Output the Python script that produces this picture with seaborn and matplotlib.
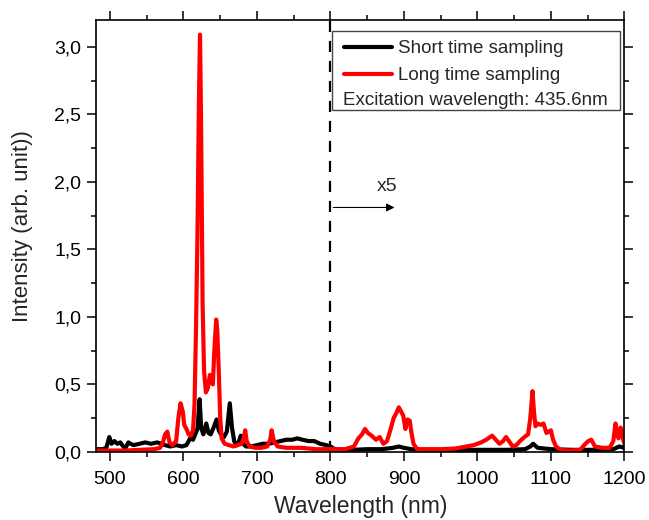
import matplotlib
matplotlib.use("Agg")
import matplotlib.pyplot as plt
from matplotlib.ticker import MultipleLocator, FuncFormatter
from matplotlib.patches import Rectangle
import seaborn as sns
import pandas as pd

# short time sampling (black)
wl_short = [481, 490, 495, 499, 502, 506, 510, 514, 518, 521,
            525, 528, 532, 540, 548, 556, 564, 570, 575, 582,
            590, 598, 604, 609, 613, 616, 619, 622, 624, 627,
            631, 634, 637, 641, 645, 648, 651, 655, 659, 663,
            666, 669, 672, 675, 678, 681, 685, 692, 700, 708,
            716, 724, 732, 740, 748, 755, 762, 770, 778, 786,
            794, 800, 806, 815, 830, 850, 870, 885, 893, 900,
            910, 930, 960, 1000, 1040, 1065, 1072, 1076, 1082, 1100,
            1130, 1160, 1185, 1193, 1200]
int_short = [0.02, 0.02, 0.03, 0.11, 0.06, 0.08, 0.06, 0.07, 0.04, 0.03,
             0.07, 0.06, 0.05, 0.06, 0.07, 0.06, 0.07, 0.06, 0.05, 0.04,
             0.05, 0.04, 0.05, 0.10, 0.09, 0.13, 0.17, 0.39, 0.18, 0.13,
             0.21, 0.14, 0.13, 0.18, 0.24, 0.16, 0.13, 0.11, 0.15, 0.36,
             0.18, 0.08, 0.05, 0.07, 0.12, 0.06, 0.04, 0.04, 0.05, 0.06,
             0.06, 0.07, 0.08, 0.09, 0.09, 0.10, 0.09, 0.08, 0.08, 0.06,
             0.05, 0.04, 0.02, 0.015, 0.015, 0.02, 0.02, 0.03, 0.04, 0.03,
             0.02, 0.015, 0.015, 0.015, 0.015, 0.02, 0.04, 0.06, 0.03, 0.02,
             0.015, 0.015, 0.02, 0.04, 0.03]

# long time sampling (red)
wl_long = [481, 500, 520, 540, 560, 568, 572, 575, 578, 581,
           585, 590, 593, 596, 599, 601, 604, 607, 610, 613,
           615, 617, 619, 621, 622.5, 624, 626, 628, 630.5, 633,
           636, 638, 640, 642, 644.5, 646, 648, 650, 652, 656,
           662, 668, 674, 679, 682, 684, 686, 690, 698, 706,
           714, 718, 720, 723, 728, 740, 760, 780, 800, 820,
           832, 838, 843, 847, 851, 856, 862, 867, 872, 877,
           882, 886, 890, 893, 896, 899, 902, 905, 908, 910,
           913, 918, 930, 950, 970, 985, 995, 1005, 1012, 1020,
           1025, 1030, 1035, 1039, 1043, 1048, 1053, 1058, 1064, 1069,
           1072, 1075, 1077, 1079, 1082, 1086, 1090, 1094, 1097, 1100,
           1103, 1107, 1113, 1125, 1140, 1147, 1151, 1155, 1160, 1170,
           1180, 1185, 1188, 1190, 1192, 1195, 1198, 1200]
int_long = [0.01, 0.01, 0.01, 0.015, 0.02, 0.03, 0.07, 0.13, 0.15, 0.07,
            0.05, 0.08, 0.25, 0.36, 0.30, 0.20, 0.17, 0.13, 0.12, 0.16,
            0.35, 0.90, 1.60, 2.60, 3.09, 2.40, 1.10, 0.60, 0.44, 0.47,
            0.57, 0.52, 0.50, 0.75, 0.98, 0.90, 0.60, 0.25, 0.10, 0.06,
            0.05, 0.04, 0.05, 0.06, 0.10, 0.16, 0.08, 0.04, 0.03, 0.03,
            0.04, 0.09, 0.16, 0.08, 0.04, 0.03, 0.03, 0.02, 0.02, 0.02,
            0.04, 0.10, 0.13, 0.17, 0.14, 0.12, 0.09, 0.11, 0.06, 0.08,
            0.17, 0.25, 0.29, 0.33, 0.30, 0.27, 0.17, 0.24, 0.23, 0.15,
            0.06, 0.02, 0.02, 0.02, 0.025, 0.04, 0.05, 0.07, 0.09, 0.12,
            0.09, 0.06, 0.08, 0.11, 0.08, 0.04, 0.05, 0.08, 0.11, 0.13,
            0.25, 0.45, 0.30, 0.19, 0.21, 0.20, 0.21, 0.14, 0.15, 0.16,
            0.09, 0.04, 0.015, 0.01, 0.015, 0.06, 0.08, 0.09, 0.04, 0.03,
            0.03, 0.08, 0.21, 0.15, 0.10, 0.18, 0.10, 0.06]

labels = ["Short time sampling", "Long time sampling"]
note = "Excitation wavelength: 435.6nm"

df_s = pd.DataFrame({"wl": wl_short, "I": int_short})
df_l = pd.DataFrame({"wl": wl_long, "I": int_long})

sns.set_style("ticks")
plt.rcParams["font.family"] = ["Liberation Sans", "DejaVu Sans"]

fig = plt.figure(figsize=(6.49, 5.2), dpi=100)
ax = fig.add_axes([0.148, 0.131, 0.814, 0.831])

sns.lineplot(data=df_s, x="wl", y="I", color="black", lw=3.0, ax=ax, label=labels[0])
sns.lineplot(data=df_l, x="wl", y="I", color="#ff0000", lw=3.0, ax=ax, label=labels[1])

ax.axvline(800, color="black", lw=1.6, ls=(0, (5, 4)), zorder=1)
ax.annotate("", xy=(891, 1.81), xytext=(800, 1.81),
            arrowprops=dict(arrowstyle="-|>", color="black", lw=0.8, mutation_scale=12))
ax.text(877, 1.90, "x5", fontsize=14, ha="center", va="bottom")

ax.set_xlim(481, 1200)
ax.set_ylim(0, 3.2)
ax.xaxis.set_major_locator(MultipleLocator(100))
ax.xaxis.set_minor_locator(MultipleLocator(50))
ax.yaxis.set_major_locator(MultipleLocator(0.5))
ax.yaxis.set_minor_locator(MultipleLocator(0.25))
ax.yaxis.set_major_formatter(FuncFormatter(lambda v, p: f"{v:.1f}".replace(".", ",")))

ax.tick_params(which="both", direction="out", top=True, right=True, width=1.1, colors="black")
ax.tick_params(which="major", length=6.5, labelsize=14, pad=4)
ax.tick_params(axis="x", which="major", pad=7.5)
ax.tick_params(which="minor", length=3.8)
ax.tick_params(labeltop=False, labelright=False)
for s in ax.spines.values():
    s.set_linewidth(1.2)
    s.set_color("black")

ax.set_xlabel("Wavelength (nm)", fontsize=16.5, labelpad=5)
ax.set_ylabel("Intensity (arb. unit))", fontsize=16)
ax.yaxis.set_label_coords(-0.12, 0.523)

# legend box with extra note line
ax.add_patch(Rectangle((0.447, 0.792), 0.545, 0.181, transform=ax.transAxes,
                       facecolor="white", edgecolor="#444444", lw=1.0, zorder=4))
ax.legend(loc="upper left", bbox_to_anchor=(0.455, 0.970), frameon=False, fontsize=13.5,
          handlelength=2.55, handletextpad=0.35, labelspacing=0.52, borderaxespad=0)
ax.get_legend().set_zorder(5)
ax.text(0.468, 0.813, note, transform=ax.transAxes, fontsize=13.5, va="center", zorder=6)

fig.savefig("out.png", dpi=100)
